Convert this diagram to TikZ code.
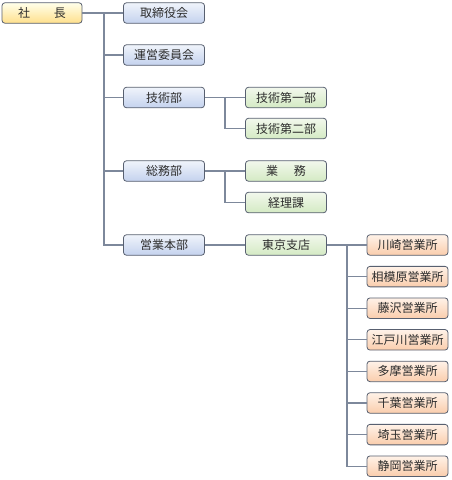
\documentclass[tikz,border=0pt]{standalone}
\usepackage{fontspec}
\setmainfont{Noto Sans CJK JP}
\usepackage{tikz}
\usetikzlibrary{positioning, calc}
\usepackage{xcolor}
\definecolor{orgline}{RGB}{125, 136, 155}
\definecolor{orgedge}{RGB}{88, 96, 112}
\definecolor{orgtext}{RGB}{45, 45, 45}
\tikzset{
  orgbox/.style={draw=orgedge, line width=0.8pt, rounded corners=3pt,
    minimum width=81pt, minimum height=20.5pt, inner sep=0pt,
    text=orgtext, font=\fontsize{12}{13}\selectfont},
  headbox/.style={orgbox, top color=yellow!8, bottom color={rgb,255:red,255;green,224;blue,140}},
  deptbox/.style={orgbox, top color={rgb,255:red,240;green,244;blue,251}, bottom color={rgb,255:red,196;green,210;blue,238}},
  sectbox/.style={orgbox, top color={rgb,255:red,242;green,248;blue,236}, bottom color={rgb,255:red,212;green,234;blue,196}},
  officebox/.style={orgbox, top color={rgb,255:red,255;green,242;blue,232}, bottom color={rgb,255:red,250;green,205;blue,172}},
  link/.style={draw=orgline, line width=1.1pt}
}

\begin{document}
\begin{tikzpicture}[x=1pt, y=-1pt]
        \useasboundingbox (0,0) rectangle (451,480);
        % Head and departments
        \node[headbox, minimum width=80pt] (shacho) at (42,13) {社　　長};
        \node[deptbox] (torishimari) at (164,13) {取締役会};
        \node[deptbox] (unei) at (164,55) {運営委員会};
        \node[deptbox] (gijutsu) at (164,97.5) {技術部};
        \node[deptbox] (somu) at (164,171) {総務部};
        \node[deptbox] (eigyo) at (164,245) {営業本部};
        % Sections
        \node[sectbox] (gijutsu1) at (286,97.5) {技術第一部};
        \node[sectbox] (gijutsu2) at (286,128.5) {技術第二部};
        \node[sectbox] (gyomu) at (286,171) {業\hspace{1.3em}務};
        \node[sectbox] (keiri) at (286,202.5) {経理課};
        \node[sectbox] (tokyo) at (286,245) {東京支店};
        % Sales offices
        \foreach \name [count=\i from 0] in {川崎,相模原,藤沢,江戸川,多摩,千葉,埼玉,静岡}{
          \node[officebox] (office\i) at (407.5,245+31.6*\i) {\name 営業所};
        }
        % Connectors
        \coordinate (bus1) at (104,13);
        \draw[link] (shacho.east) -- (torishimari.west);
        \foreach \dept in {unei, gijutsu, somu, eigyo}{
          \draw[link] (bus1) |- (\dept.west);
        }
        \coordinate (bus2) at (225,97.5);
        \draw[link] (gijutsu.east) -- (gijutsu1.west);
        \draw[link] (bus2) |- (gijutsu2.west);
        \coordinate (bus3) at (225,171);
        \draw[link] (somu.east) -- (gyomu.west);
        \draw[link] (bus3) |- (keiri.west);
        \draw[link] (eigyo.east) -- (tokyo.west);
        \coordinate (bus4) at (347,245);
        \draw[link] (tokyo.east) -- (office0.west);
        \foreach \i in {1,...,7}{
          \draw[link] (bus4) |- (office\i.west);
        }
      \end{tikzpicture}
\end{document}
